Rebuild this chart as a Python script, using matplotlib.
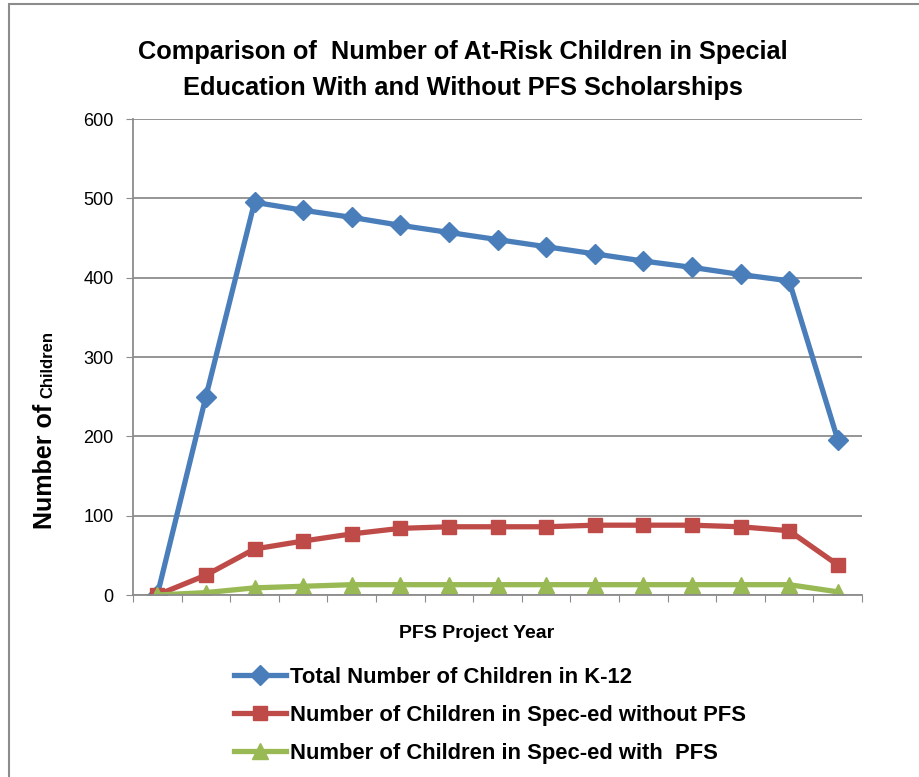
import matplotlib.pyplot as plt
from matplotlib.patches import Rectangle

years = list(range(15))
total_k12 = [0, 250, 495, 485, 476, 466, 457, 448, 439, 430, 421, 413, 404, 396, 196]
without_pfs = [0, 25, 58, 68, 77, 84, 86, 86, 86, 88, 88, 88, 86, 81, 38]
with_pfs = [0, 3, 9, 11, 13, 13, 13, 13, 13, 13, 13, 13, 13, 13, 4]

labels = ["Total Number of Children in K-12",
          "Number of Children in Spec-ed without PFS",
          "Number of Children in Spec-ed with  PFS"]

plt.rcParams['font.family'] = ['Liberation Sans', 'DejaVu Sans']

W, H = 919, 777
fig = plt.figure(figsize=(W / 100, H / 100), dpi=100)
# chart frame (cut off at right and bottom in the original)
fig.patches.append(Rectangle((9 / W, -0.1), 1.2, 1 - 4 / H + 0.1, transform=fig.transFigure,
                             fill=False, edgecolor='#8c8c8c', linewidth=1.5))

ax = fig.add_axes([133 / W, 1 - 595 / H, (862 - 133) / W, (595 - 119) / H])

ax.plot(years, total_k12, color='#4a7ebb', lw=3.8, marker='D', ms=10, label=labels[0])
ax.plot(years, without_pfs, color='#be4b48', lw=3.8, marker='s', ms=10, label=labels[1])
ax.plot(years, with_pfs, color='#98b954', lw=3.8, marker='^', ms=11, label=labels[2])

ax.set_xlim(-0.5, 14.5)
ax.set_ylim(0, 600)
ax.set_yticks(range(0, 601, 100))
ax.set_xticks([i - 0.5 for i in range(16)])
ax.set_xticklabels([])
ax.tick_params(axis='x', direction='out', length=5, color='#8c8c8c')
ax.tick_params(axis='y', direction='out', length=5, color='#8c8c8c', labelsize=13, pad=9)
ax.grid(axis='y', color='#8c8c8c', lw=1.3)
ax.set_axisbelow(True)
for s in ['top', 'right']:
    ax.spines[s].set_visible(False)
for s in ['left', 'bottom']:
    ax.spines[s].set_color('#8c8c8c')
    ax.spines[s].set_linewidth(1.3)

fig.text(463 / W, 1 - 70 / H,
         "Comparison of  Number of At-Risk Children in Special\nEducation With and Without PFS Scholarships",
         ha='center', va='center', fontsize=18.3, fontweight='bold', linespacing=1.6)

fig.text(477 / W, 1 - 633 / H, "PFS Project Year", ha='center', va='center',
         fontsize=14, fontweight='bold')

fig.text(52 / W, 1 - 529 / H, "Number of", rotation=90, rotation_mode='anchor',
         ha='left', va='baseline', fontsize=18, fontweight='bold')
fig.text(52 / W, 1 - 398 / H, "Children", rotation=90, rotation_mode='anchor',
         ha='left', va='baseline', fontsize=12, fontweight='bold')

fig.legend(loc='upper left', bbox_to_anchor=(225 / W, 1 - 658 / H), frameon=False,
           prop={'weight': 'bold', 'size': 15.8}, handlelength=2.4, handletextpad=0.15,
           labelspacing=0.78, borderaxespad=0)

fig.savefig('out.png', dpi=100)
